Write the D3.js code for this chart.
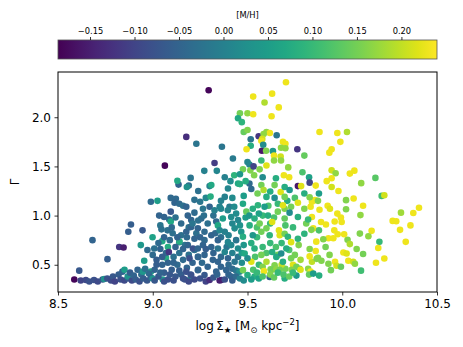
<!DOCTYPE html>
<html>
<head>
<meta charset="utf-8">
<script src="https://cdn.jsdelivr.net/npm/d3@7"></script>
<style>
body { margin: 0; background: #fff; }
svg { font-family: "DejaVu Sans", sans-serif; }
</style>
</head>
<body>
<div id="chart"></div>
<script>
// rows are [log Sigma_star, Gamma, [M/H]]
var ptsBase = [
  [8.586,0.35,-0.18],[8.612,0.44,-0.07],[8.62,0.34,-0.10],[8.647,0.345,-0.09],[8.665,0.33,-0.08],[8.69,0.345,-0.08],
  [8.71,0.33,-0.09],[8.735,0.35,-0.07],[8.744,0.355,0.03],[8.761,0.557,-0.06],[8.682,0.75,-0.05],[8.823,0.68,-0.12],
  [8.846,0.675,-0.15],[8.871,0.835,-0.06],[8.885,0.91,-0.06],[8.946,0.85,-0.07],[8.937,0.70,0.04],[8.955,0.54,0.05],
  [8.972,0.65,-0.04],[8.99,0.43,0.06],[8.999,0.78,0.06],[8.76,0.36,-0.08],[8.78,0.34,-0.09],[8.79,0.38,-0.07],
  [8.80,0.33,-0.10],[8.82,0.40,-0.06],[8.83,0.35,-0.08],[8.84,0.43,-0.05],[8.85,0.34,-0.09],[8.851,0.45,0.05],
  [8.87,0.36,-0.07],[8.868,0.38,0.03],[8.88,0.42,-0.06],[8.89,0.34,-0.09],[8.90,0.39,-0.05],[8.91,0.35,-0.06],
  [8.92,0.45,-0.05],[8.93,0.33,-0.08],[8.94,0.40,-0.04],[8.948,0.43,0.04],[8.95,0.36,-0.06],[8.96,0.46,-0.03],
  [8.97,0.34,-0.07],[8.98,0.41,-0.04],[8.99,0.37,-0.05],[8.99,1.14,-0.04]
];

var ptsLowMid = [
  [9.008,0.665,-0.03],[9.0,0.36,0.03],[9.053,0.35,0.04],[9.2,0.36,0.06],[9.034,1.0,-0.05],[9.06,0.985,-0.05],
  [9.087,0.96,-0.04],[9.095,1.04,-0.07],[9.04,0.90,-0.02],[9.046,0.86,-0.03],[9.078,0.85,-0.03],[9.105,0.82,-0.03],
  [9.05,0.74,0.07],[9.08,0.68,0.08],[9.095,0.94,0.07],[9.07,0.57,0.08],[9.14,0.73,-0.02],[9.025,1.15,0.05],
  [9.095,1.18,-0.04],[9.122,1.17,-0.04],[9.00,0.60,-0.04],[9.01,0.45,-0.05],[9.02,0.55,-0.06],[9.03,0.38,-0.07],
  [9.04,0.66,-0.05],[9.05,0.50,-0.05],[9.06,0.42,-0.06],[9.07,0.62,-0.04],[9.08,0.35,-0.08],[9.08,0.52,-0.05],
  [9.09,0.75,-0.04],[9.10,0.45,-0.06],[9.11,0.58,-0.03],[9.12,0.38,-0.07],[9.12,0.68,-0.05],[9.13,0.50,-0.04],
  [9.14,0.62,-0.03],[9.15,0.40,-0.06],[9.15,0.80,-0.03],[9.16,0.55,-0.04],[9.17,0.35,-0.08],[9.17,0.70,-0.02],
  [9.18,0.47,-0.05],[9.19,0.60,-0.03],[9.19,0.88,-0.03],[9.20,0.40,-0.07],[9.141,0.736,0.08],[9.21,0.52,-0.05],
  [9.22,0.65,-0.03],[9.22,0.35,-0.09],[9.23,0.82,-0.03],[9.24,0.45,-0.05],[9.24,0.58,-0.04],[9.085,0.63,-0.12],
  [9.136,1.315,-0.05],[9.13,1.353,0.07],[9.20,1.383,-0.02],[9.19,1.305,-0.03],[9.24,1.25,-0.03],[9.115,1.13,-0.05],
  [9.14,1.12,-0.04],[9.16,1.10,-0.03],[9.18,1.29,0.03],[9.177,1.09,-0.05],[9.185,1.0,-0.05],[9.22,1.03,-0.04],
  [9.265,1.07,-0.02],[9.256,0.97,-0.04],[9.203,0.955,-0.05],[9.177,0.835,-0.05],[9.203,0.885,-0.05],[9.238,0.87,-0.05],
  [9.273,0.835,-0.04],[9.22,0.765,-0.05],[9.273,0.75,-0.04],[9.185,0.70,-0.05],[9.212,0.665,-0.08],[9.238,0.665,-0.05],
  [9.265,0.70,-0.05],[9.194,0.565,-0.08],[9.238,0.58,-0.05],[9.273,0.60,-0.05],[9.177,0.43,-0.08],[9.203,0.395,-0.08],
  [9.238,0.445,-0.05],[9.273,0.395,-0.07],[9.25,0.36,-0.08],[9.28,0.33,-0.10]
];

var ptsCore = [
  [9.30,1.30,0.0],[9.309,1.31,0.07],[9.305,1.193,0.08],[9.30,1.09,-0.05],[9.38,1.19,0.0],[9.405,1.09,-0.01],
  [9.397,1.275,0.01],[9.45,1.325,0.07],[9.353,1.09,0.0],[9.326,1.055,0.0],[9.36,1.07,0.01],[9.396,1.055,0.01],
  [9.43,1.09,0.02],[9.476,1.12,0.07],[9.494,1.04,0.14],[9.528,1.07,0.08],[9.555,1.105,0.09],[9.59,1.09,0.05],
  [9.608,1.0,0.08],[9.63,0.935,0.22],[9.66,1.04,0.15],[9.696,1.07,0.16],[9.687,1.105,0.22],[9.73,1.09,0.15],
  [9.766,1.13,0.22],[9.722,1.03,0.02],[9.80,1.07,0.16],[9.37,0.97,0.05],[9.335,0.94,-0.04],[9.414,0.985,0.02],
  [9.45,0.955,0.01],[9.51,1.0,0.04],[9.537,0.97,0.08],[9.564,0.92,0.15],[9.696,0.97,0.14],[9.766,0.985,0.08],
  [9.81,0.92,0.15],[9.309,0.80,-0.05],[9.344,0.90,0.07],[9.353,0.85,0.01],[9.38,0.835,0.0],[9.432,0.87,0.02],
  [9.467,0.835,0.04],[9.476,0.785,0.08],[9.511,0.90,0.08],[9.528,0.80,0.04],[9.573,0.835,0.15],[9.60,0.87,0.15],
  [9.617,0.80,0.09],[9.666,0.85,0.22],[9.67,0.80,0.22],[9.696,0.815,0.15],[9.713,0.785,0.09],[9.73,0.73,0.22],
  [9.766,0.765,0.09],[9.80,0.815,0.09],[9.344,0.75,-0.05],[9.397,0.73,0.01],[9.44,0.75,-0.02],[9.309,0.68,-0.05],
  [9.344,0.665,-0.02],[9.38,0.63,0.01],[9.414,0.70,0.01],[9.45,0.665,0.02],[9.485,0.615,0.07],[9.52,0.53,0.22],
  [9.50,0.565,0.02],[9.537,0.665,0.08],[9.573,0.60,0.15],[9.60,0.53,0.19],[9.63,0.63,0.08],[9.652,0.58,0.07],
  [9.678,0.615,0.02],[9.687,0.53,0.08],[9.705,0.665,0.08],[9.73,0.565,0.15],[9.74,0.50,0.22],[9.758,0.48,0.15],
  [9.775,0.46,0.15],[9.82,0.46,0.17],[9.317,0.55,-0.05],[9.344,0.53,-0.05],[9.397,0.565,-0.05],[9.432,0.53,-0.02],
  [9.30,0.345,-0.13],[9.335,0.43,-0.05],[9.362,0.345,-0.12],[9.388,0.445,-0.05],[9.414,0.38,-0.05],[9.458,0.43,0.02],
  [9.476,0.445,0.15],[9.50,0.395,0.08],[9.537,0.38,0.08],[9.587,0.435,0.23],[9.622,0.455,0.16],[9.643,0.495,0.16],
  [9.696,0.36,0.08],[9.733,0.45,0.16],[9.78,0.45,0.22],[9.833,0.43,0.23],[9.617,0.375,-0.05],[9.63,0.45,0.15],
  [9.652,0.455,0.17],[9.67,0.45,0.15],[9.758,0.39,0.04],[9.825,0.40,0.14],[9.878,0.39,0.08],[9.353,0.34,-0.15],
  [9.32,0.37,-0.07],[9.34,0.40,-0.05],[9.38,0.35,-0.08],[9.40,0.40,-0.05],[9.42,0.34,-0.06],[9.44,0.38,-0.04],
  [9.46,0.36,0.0],[9.48,0.34,0.02],[9.52,0.35,0.05],[9.55,0.42,0.1],[9.56,0.36,0.06],[9.58,0.38,0.12],
  [9.62,0.40,0.16],[9.64,0.37,0.14],[9.66,0.42,0.1],[9.69,0.40,0.12],[9.72,0.38,0.14],[9.74,0.42,0.1],
  [9.51,1.325,-0.04],[9.52,1.27,-0.04],[9.573,1.31,0.15],[9.585,1.26,0.19],[9.62,1.245,0.08],[9.643,1.31,0.15],
  [9.675,1.24,0.22],[9.696,1.29,0.08],[9.722,1.26,0.04],[9.766,1.30,-0.16],[9.783,1.30,0.22],[9.80,1.225,0.08],
  [9.553,1.225,0.15],[9.60,1.19,0.08],[9.643,1.18,0.02],[9.696,1.19,0.15]
];

// extra points in the crowded middle of the cloud
var ptsFill = [
  [9.03,0.72,-0.04],[9.06,0.78,-0.05],[9.10,0.88,-0.04],[9.12,0.98,-0.03],[9.13,0.78,-0.05],[9.15,0.92,-0.04],
  [9.16,0.66,-0.05],[9.18,0.78,-0.04],[9.21,0.92,-0.02],[9.24,0.95,-0.03],[9.25,0.78,-0.05],[9.26,0.52,-0.04],
  [9.28,0.66,-0.06],[9.29,0.92,-0.03],[9.29,0.48,-0.05],[9.27,1.0,-0.03],[9.25,1.14,-0.02],[9.28,1.18,0.01],
  [9.22,1.16,-0.03],[9.05,0.58,-0.06],[9.11,0.52,-0.05],[9.14,0.44,-0.06],[9.09,0.40,-0.07],[9.04,0.42,-0.05],
  [9.02,0.50,-0.06],[9.16,0.36,-0.08],[9.19,0.33,-0.09],[9.11,0.34,-0.08],[9.06,0.33,-0.08],[9.01,0.34,-0.07],
  [9.32,0.62,-0.05],[9.36,0.58,-0.04],[9.39,0.68,-0.02],[9.42,0.62,0.0],[9.45,0.58,-0.02],[9.47,0.52,0.02],
  [9.42,0.46,-0.04],[9.36,0.48,-0.05],[9.33,0.82,-0.04],[9.36,0.78,-0.03],[9.40,0.80,0.0],[9.42,0.92,0.01],
  [9.46,0.90,0.03],[9.48,0.70,0.04],[9.49,0.98,0.05],[9.32,1.0,-0.03],[9.36,1.15,0.0],[9.42,1.18,0.02],
  [9.44,1.02,0.02],[9.48,1.2,0.05],[9.47,0.62,0.05],[9.40,0.50,-0.04],[9.44,0.44,-0.02],
  [9.52,0.72,0.08],[9.55,0.78,0.1],[9.54,0.58,0.12],[9.56,0.50,0.1],[9.58,0.68,0.1],[9.60,0.62,0.12],
  [9.62,0.72,0.1],[9.65,0.68,0.12],[9.62,0.92,0.1],[9.64,0.98,0.12],[9.58,1.0,0.1],[9.55,0.88,0.12],
  [9.66,0.60,0.15],[9.68,0.72,0.1],[9.70,0.90,0.12],[9.72,0.65,0.12],[9.75,0.60,0.15],[9.74,0.88,0.1],
  [9.77,0.70,0.16],[9.78,0.55,0.18],[9.70,0.46,0.15],[9.58,0.48,0.16],[9.53,0.45,0.12],[9.68,0.50,0.2],
  [9.66,1.12,0.1],[9.61,1.1,0.12],[9.56,1.02,0.06],[9.75,1.18,0.12],[9.71,1.15,0.08]
];

var ptsUpper = [
  [9.295,2.274,-0.18],[9.23,1.73,-0.02],[9.365,1.70,-0.02],[9.326,1.535,-0.11],[9.423,1.58,-0.01],[9.272,1.455,0.0],
  [9.338,1.455,0.01],[9.38,1.39,0.0],[9.43,1.41,0.09],[9.46,1.32,0.08],[9.064,1.508,-0.18],[9.177,1.80,-0.13],
  [9.703,2.356,0.23],[9.53,2.21,0.23],[9.63,2.24,0.23],[9.59,2.15,0.19],[9.665,2.10,0.23],[9.627,2.01,0.23],
  [9.46,2.04,0.15],[9.50,2.04,0.17],[9.53,2.03,0.23],[9.45,1.99,0.07],[9.47,1.95,0.09],[9.48,1.85,0.14],
  [9.50,1.87,0.16],[9.517,1.776,-0.02],[9.559,1.807,-0.12],[9.60,1.85,0.17],[9.618,1.84,0.23],[9.585,1.83,0.17],
  [9.578,1.78,0.21],[9.654,1.817,-0.02],[9.573,1.76,0.23],[9.517,1.71,0.08],[9.576,1.66,-0.16],[9.583,1.72,0.02],
  [9.598,1.66,0.16],[9.495,1.675,0.23],[9.687,1.75,0.23],[9.70,1.73,0.23],[9.677,1.69,0.17],[9.70,1.685,0.17],
  [9.763,1.675,-0.12],[9.80,1.61,0.14],[9.634,1.655,0.04],[9.64,1.61,0.23],[9.675,1.60,0.21],[9.64,1.56,0.17],
  [9.573,1.56,0.1],[9.677,1.56,0.17],[9.715,1.49,0.17],[9.50,1.545,0.01],[9.51,1.52,0.01],[9.515,1.46,0.16],
  [9.476,1.47,0.15],[9.532,1.50,-0.10],[9.564,1.47,0.16],[9.60,1.51,0.22],[9.46,1.42,0.04],[9.58,1.39,0.02],
  [9.65,1.38,0.08],[9.692,1.41,0.23],[9.72,1.39,0.23],[9.79,1.44,0.12],[9.825,1.39,0.06],[9.828,1.335,-0.10],
  [9.86,1.305,0.23],[9.41,1.35,0.02],[9.49,1.35,0.08],[9.535,1.41,0.16]
];

var ptsRight = [
  [9.88,1.85,0.23],[9.974,1.84,0.23],[10.025,1.85,0.19],[9.99,1.75,0.23],[9.944,1.675,0.23],[9.932,1.64,0.23],
  [9.944,1.46,0.21],[9.965,1.43,0.17],[9.944,1.38,0.23],[9.918,1.35,0.23],[10.064,1.457,0.23],[10.04,1.427,0.23],
  [10.175,1.383,0.13],[10.1,1.33,0.17],[9.944,1.29,0.21],[9.98,1.25,0.23],[9.877,1.224,0.05],[10.02,1.157,0.16],
  [10.06,1.173,0.23],[10.208,1.2,0.11],[10.222,1.207,0.21],[9.84,1.14,0.23],[9.856,1.157,0.23],[9.923,1.10,0.23],
  [9.935,1.07,0.22],[10.02,1.065,0.16],[10.11,1.10,0.23],[9.974,1.02,0.23],[9.993,0.98,0.23],[9.997,0.935,0.23],
  [10.096,1.005,0.17],[9.84,0.985,0.23],[10.405,1.08,0.23],[10.375,1.027,0.23],[10.31,1.03,0.18],[10.266,0.946,0.23],
  [10.285,0.943,0.23],[10.36,0.90,0.23],[10.305,0.855,0.23],[10.335,0.733,0.23],[9.888,0.935,0.23],[9.914,0.91,0.23],
  [9.847,0.87,0.23],[9.877,0.85,0.12],[9.958,0.85,0.23],[9.976,0.81,0.23],[10.093,0.817,0.16],[10.155,0.845,0.23],
  [10.138,0.79,0.17],[10.028,0.755,0.16],[10.04,0.71,0.19],[9.927,0.77,0.23],[9.953,0.77,0.23],[9.90,0.76,0.16],
  [9.912,0.68,0.15],[10.196,0.733,0.10],[10.19,0.67,0.23],[10.076,0.66,0.16],[10.11,0.61,0.15],[10.006,0.625,0.23],
  [10.023,0.615,0.22],[10.032,0.54,0.23],[10.058,0.53,0.21],[10.067,0.51,0.17],[10.178,0.52,0.23],[10.222,0.563,0.23],
  [9.962,0.53,0.23],[9.97,0.49,0.21],[9.927,0.51,0.16],[9.94,0.445,0.15],[9.993,0.48,0.14],[10.099,0.44,0.11],
  [9.86,0.64,0.23],[9.84,0.53,0.2],[9.865,0.56,0.16],[9.847,0.41,0.05],[9.828,1.187,0.16],[9.833,1.09,0.23],
  [9.872,1.15,0.16],[9.88,1.06,0.23],[9.82,0.96,0.1],[9.96,0.94,0.23],[9.837,0.855,0.16],[10.01,0.81,0.23],
  [9.863,0.735,0.23],[9.828,0.66,0.16],[9.828,0.585,0.23],[9.872,0.57,0.16],[9.89,0.54,0.16],[9.933,0.60,0.16]
];

var xTicks = [8.5, 9.0, 9.5, 10.0, 10.5];
var yTicks = [0.5, 1.0, 1.5, 2.0];
var cbarTicks = [-0.15, -0.10, -0.05, 0.00, 0.05, 0.10, 0.15, 0.20];
var mhRange = [-0.186, 0.240];

var svgWidth = 463;
var svgHeight = 347;

var margin = {
  top: 72,
  right: 26,
  bottom: 55,
  left: 58
};

var width = svgWidth - margin.left - margin.right;
var height = svgHeight - margin.top - margin.bottom;

var svg = d3.select("#chart")
  .append("svg")
  .attr("width", svgWidth)
  .attr("height", svgHeight);

var color = d3.scaleSequential(d3.interpolateViridis).domain(mhRange);

// colorbar on top
var cbar = {x: margin.left, y: 40, w: width, h: 19};

var grad = svg.append("defs").append("linearGradient")
  .attr("id", "viridis")
  .attr("x1", "0%").attr("x2", "100%")
  .attr("y1", "0%").attr("y2", "0%");

d3.range(0, 1.0001, 0.05).forEach(function(t) {
  grad.append("stop")
    .attr("offset", (t * 100) + "%")
    .attr("stop-color", d3.interpolateViridis(t));
});

var cbarGroup = svg.append("g")
  .attr("transform", `translate(${cbar.x}, ${cbar.y})`);

cbarGroup.append("rect")
  .attr("width", cbar.w)
  .attr("height", cbar.h)
  .attr("fill", "url(#viridis)")
  .attr("stroke", "#555")
  .attr("stroke-width", 0.8);

var cScale = d3.scaleLinear().domain(mhRange).range([0, cbar.w]);

var cAxis = cbarGroup.append("g")
  .call(d3.axisTop(cScale).tickValues(cbarTicks).tickFormat(d3.format(".2f"))
    .tickSize(3).tickPadding(3));
cAxis.select(".domain").remove();
cAxis.selectAll("text").style("font-size", "8.3px").style("font-family", "DejaVu Sans");
cAxis.selectAll("line").attr("stroke", "#000").attr("stroke-width", 0.8);

svg.append("text")
  .attr("x", cbar.x + cbar.w / 2)
  .attr("y", 18)
  .attr("text-anchor", "middle")
  .style("font-size", "8.3px")
  .text("[M/H]");

// main axes
var chartGroup = svg.append("g")
  .attr("transform", `translate(${margin.left}, ${margin.top})`);

var xLinearScale = d3.scaleLinear().domain([8.5, 10.5]).range([0, width]);
var yLinearScale = d3.scaleLinear().domain([0.223, 2.46]).range([height, 0]);

var allPts = [].concat(ptsBase, ptsLowMid, ptsFill, ptsCore, ptsUpper, ptsRight);

chartGroup.selectAll("circle")
  .data(allPts)
  .enter()
  .append("circle")
  .attr("cx", d => xLinearScale(d[0]))
  .attr("cy", d => yLinearScale(d[1]))
  .attr("r", 3.3)
  .attr("fill", d => color(d[2]));

var bottomAxis = d3.axisBottom(xLinearScale).tickValues(xTicks).tickFormat(d3.format(".1f"))
  .tickSize(3.5).tickPadding(3.5);
var leftAxis = d3.axisLeft(yLinearScale).tickValues(yTicks).tickFormat(d3.format(".1f"))
  .tickSize(3.5).tickPadding(3.5);

var xAxis = chartGroup.append("g")
  .attr("transform", `translate(0, ${height})`)
  .call(bottomAxis);
var yAxis = chartGroup.append("g")
  .call(leftAxis);

[xAxis, yAxis].forEach(function(ax) {
  ax.select(".domain").remove();
  ax.selectAll("text").style("font-size", "12px").style("font-family", "DejaVu Sans").attr("fill", "#000");
  ax.selectAll("line").attr("stroke", "#000").attr("stroke-width", 0.8);
});

// frame
chartGroup.append("rect")
  .attr("width", width)
  .attr("height", height)
  .attr("fill", "none")
  .attr("stroke", "#000")
  .attr("stroke-width", 1);

// axis labels
var xLabel = svg.append("text")
  .attr("x", margin.left + width / 2)
  .attr("y", 330)
  .attr("text-anchor", "middle")
  .style("font-size", "12px");
xLabel.append("tspan").text("log\u2009\u03A3");
xLabel.append("tspan").attr("dy", 3).style("font-size", "8.5px").text("\u2605");
xLabel.append("tspan").attr("dy", -3).text(" [M");
xLabel.append("tspan").attr("dy", 3).style("font-size", "8.5px").text("\u2299");
xLabel.append("tspan").attr("dy", -3).text(" kpc");
xLabel.append("tspan").attr("dy", -5).style("font-size", "8.5px").text("\u22122");
xLabel.append("tspan").attr("dy", 5).text("]");

svg.append("text")
  .attr("transform", `translate(19, ${margin.top + height / 2}) rotate(-90)`)
  .attr("text-anchor", "middle")
  .style("font-size", "12px")
  .text("\u0393");
</script>
</body>
</html>
